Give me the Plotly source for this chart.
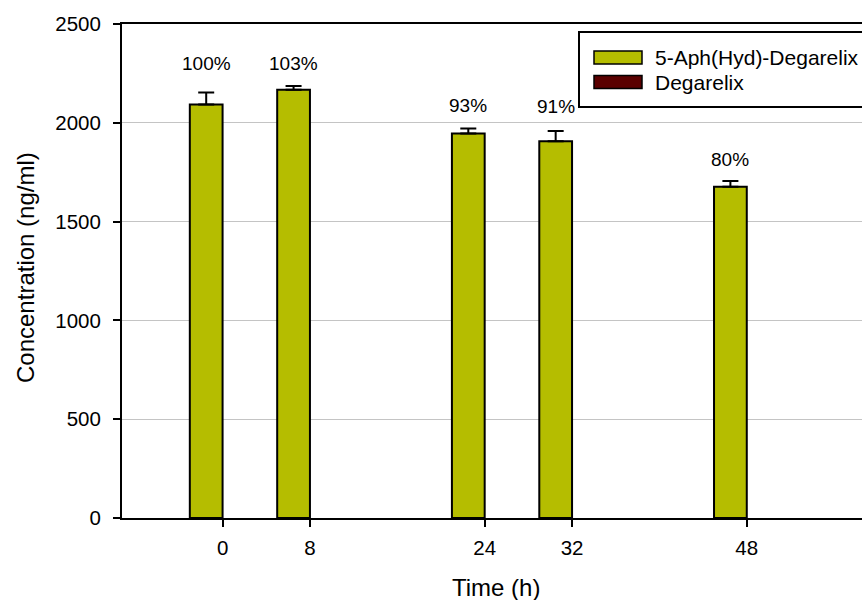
import plotly.graph_objects as go

# ---- data ----
times = [0, 8, 24, 32, 48]
aph_conc = [2093, 2167, 1946, 1907, 1676]
aph_err = [60, 19, 25, 51, 29]
deg_conc = [0, 0, 0, 0, 0]
pct_labels = ["100%", "103%", "93%", "91%", "80%"]
label_y = [2302, 2302, 2090, 2085, 1812]
series_names = ["5-Aph(Hyd)-Degarelix", "Degarelix"]
y_ticks = [0, 500, 1000, 1500, 2000, 2500]
x_ticks = [0, 8, 24, 32, 48]

GREEN = "#b5bd00"
DARKRED = "#5a0000"
FONT = "Liberation Sans, Arial, sans-serif"
BAR_W = 3

W, H = 862, 600
L, R, T, B = 122, 0, 24, 82

fig = go.Figure()
fig.add_trace(go.Bar(
    x=times, y=aph_conc, width=BAR_W, offset=-BAR_W,
    marker=dict(color=GREEN, line=dict(color="black", width=2)),
    error_y=dict(type="data", array=aph_err, arrayminus=[0]*len(aph_err),
                 symmetric=False, color="black", thickness=2, width=8),
    name=series_names[0], showlegend=False,
))
fig.add_trace(go.Bar(
    x=times, y=deg_conc, width=BAR_W, offset=0,
    marker=dict(color=DARKRED, line=dict(color="black", width=0)),
    name=series_names[1], showlegend=False,
))

for t, lab, ly in zip(times, pct_labels, label_y):
    fig.add_annotation(x=t - BAR_W / 2, y=ly, text=lab, showarrow=False,
                       xref="x", yref="y", yanchor="middle",
                       font=dict(family=FONT, size=19, color="black"))

# custom legend
pw = W - L - R
ph = H - T - B
def px(xp):
    return (xp - L) / pw
def py(yp):
    return (H - B - yp) / ph

fig.add_shape(type="rect", xref="paper", yref="paper",
              x0=px(579), x1=px(880), y0=py(107), y1=py(32),
              line=dict(color="black", width=2), fillcolor="white", layer="above")
for i, (nm, col) in enumerate(zip(series_names, [GREEN, DARKRED])):
    yc = 57.5 + i * 24.5
    fig.add_shape(type="rect", xref="paper", yref="paper",
                  x0=px(594), x1=px(642), y0=py(yc + 6.5), y1=py(yc - 6.5),
                  line=dict(color="black", width=1.5), fillcolor=col, layer="above")
    fig.add_annotation(xref="paper", yref="paper", x=px(653), y=py(yc),
                       xanchor="left", yanchor="middle", text=nm, showarrow=False,
                       font=dict(family=FONT, size=21, color="black"))

# axis titles
fig.add_annotation(xref="paper", yref="paper", x=px(496), y=py(587),
                   text="Time (h)", showarrow=False, xanchor="center", yanchor="middle",
                   font=dict(family=FONT, size=24, color="black"))
fig.add_annotation(xref="paper", yref="paper", x=px(25), y=py(268),
                   text="Concentration (ng/ml)", showarrow=False, textangle=-90,
                   xanchor="center", yanchor="middle",
                   font=dict(family=FONT, size=24, color="black"))

fig.update_layout(
    width=W, height=H, margin=dict(l=L, r=R, t=T, b=B, pad=0),
    plot_bgcolor="white", paper_bgcolor="white",
    showlegend=False, barmode="overlay",
    font=dict(family=FONT, color="black"),
    xaxis=dict(range=[-9.21, 58.55], tickvals=x_ticks, ticktext=[str(v) for v in x_ticks],
               showgrid=False, zeroline=False, showline=True, linecolor="black",
               linewidth=2, mirror=True, ticks="outside", ticklen=7, tickwidth=2,
               tickcolor="black", tickfont=dict(size=20.5, family=FONT),
               ticklabelstandoff=3),
    yaxis=dict(range=[0, 2500], tickvals=y_ticks, showgrid=True, gridcolor="#c4c4c4",
               gridwidth=1, zeroline=False, showline=True, linecolor="black",
               linewidth=2, mirror=False, ticks="outside", ticklen=7, tickwidth=2,
               tickcolor="black", tickfont=dict(size=20.5, family=FONT),
               ticklabelstandoff=8),
)

fig.write_html("out.html")
